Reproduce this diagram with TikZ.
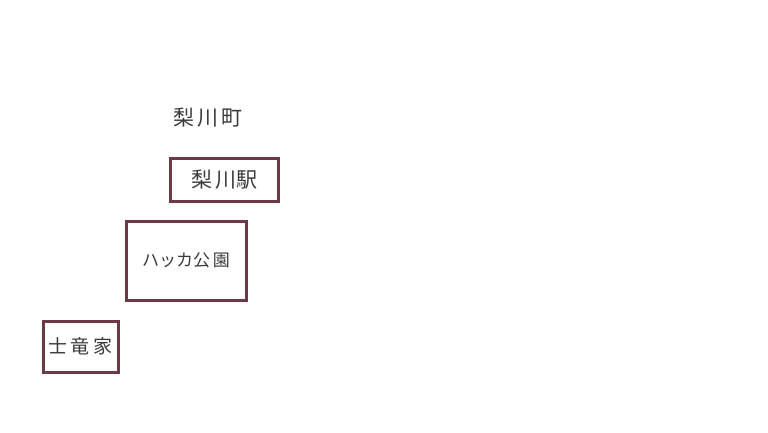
\documentclass[tikz,border=0pt]{standalone}
\usepackage{fontspec}
\newfontfamily\jpfont{Noto Sans CJK JP}
\definecolor{frame}{HTML}{6B3A45}
\definecolor{ink}{HTML}{3A3A3A}
\begin{document}
\begin{tikzpicture}[
                x=1pt, y=-1pt,
                font=\jpfont,
                place/.style={draw=frame, line width=3pt, inner sep=0pt, text=ink},
                label text/.style={text=ink, inner sep=0pt}
            ]
            % 画布
            \useasboundingbox (0,0) rectangle (768,432);

            % 地名
            \node[label text, font=\jpfont\fontsize{21}{21}\selectfont] (town) at (208,118) {梨\,川\,町};

            % 站与地点
            \node[place, minimum width=108pt, minimum height=43pt, font=\jpfont\fontsize{21}{21}\selectfont] (station) at (224.5,180) {梨\,川駅};
            \node[place, minimum width=120pt, minimum height=79pt, font=\jpfont\fontsize{17}{17}\selectfont] (park) at (186,260.5) {ハッカ公\,園};
            \node[place, minimum width=75pt, minimum height=51pt, font=\jpfont\fontsize{19}{19}\selectfont] (house) at (80.5,346.5) {士\,竜\,家};
        \end{tikzpicture}
\end{document}
